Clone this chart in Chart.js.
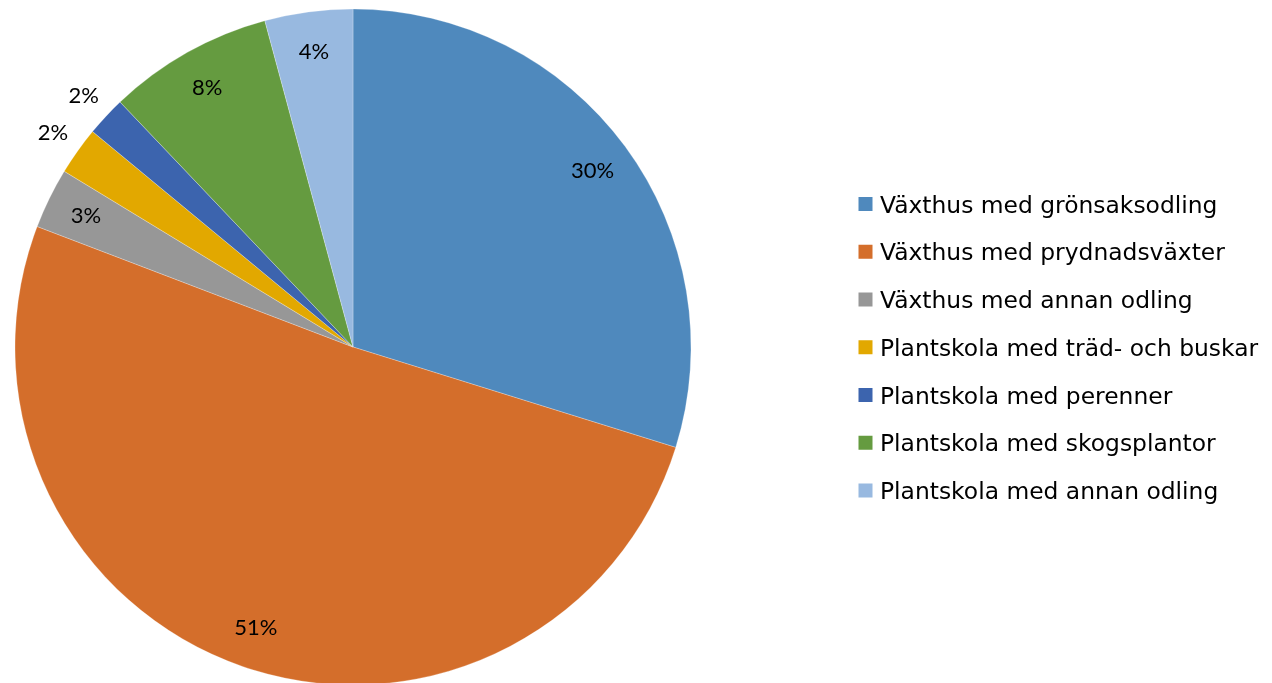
<!DOCTYPE html>
<html>
<head>
<meta charset="utf-8">
<title>Andel per odlingstyp</title>
<script src="https://cdn.jsdelivr.net/npm/chart.js@4/dist/chart.umd.min.js"></script>
<style>
    html, body { margin: 0; padding: 0; background: #ffffff; }
    #wrap { width: 1272px; height: 683px; }
</style>
</head>
<body>
<div id="wrap"><canvas id="chart" width="1272" height="683"></canvas></div>
<script>
// Kategorier och andelar (procent)
const categories = [
    'Växthus med grönsaksodling',
    'Växthus med prydnadsväxter',
    'Växthus med annan odling',
    'Plantskola med träd- och buskar',
    'Plantskola med perenner',
    'Plantskola med skogsplantor',
    'Plantskola med annan odling'
];
const shares = [29.8, 51.0, 2.9, 2.3, 1.9, 7.9, 4.2];
const colors = ['#4F89BD', '#D46E2B', '#979797', '#E2A800', '#3C64AE', '#659B40', '#98B9E0'];

// Procentetiketter på tårtbitarna
const sliceLabels = {
    id: 'sliceLabels',
    afterDatasetsDraw(chart) {
        const ctx = chart.ctx;
        const meta = chart.getDatasetMeta(0);
        const values = chart.data.datasets[0].data;
        ctx.save();
        ctx.font = '22px Lato, "Liberation Sans", sans-serif';
        ctx.fillStyle = '#000000';
        ctx.textAlign = 'center';
        ctx.textBaseline = 'middle';
        meta.data.forEach((arc, i) => {
            const p = arc.getProps(['x', 'y', 'startAngle', 'endAngle', 'outerRadius'], true);
            const mid = (p.startAngle + p.endAngle) / 2;
            // små bitar får etiketten utanför
            const r = values[i] < 2.5 ? p.outerRadius * 1.09 : p.outerRadius * 0.88;
            ctx.fillText(Math.round(values[i]) + '%', p.x + Math.cos(mid) * r, p.y + Math.sin(mid) * r);
        });
        ctx.restore();
    }
};

// Egen förklaring till höger
const sideLegend = {
    id: 'sideLegend',
    afterDraw(chart) {
        const ctx = chart.ctx;
        const labels = chart.data.labels;
        const fills = chart.data.datasets[0].backgroundColor;
        const x = 858.5, top = 204, step = 47.75, box = 14;
        ctx.save();
        ctx.font = '23.4px "DejaVu Sans", Verdana, sans-serif';
        ctx.textAlign = 'left';
        ctx.textBaseline = 'alphabetic';
        labels.forEach((label, i) => {
            const cy = top + i * step;
            ctx.fillStyle = fills[i];
            ctx.fillRect(x, cy - box / 2, box, box);
            ctx.fillStyle = '#000000';
            ctx.fillText(label, x + 21.5, cy + 8.5);
        });
        ctx.restore();
    }
};

new Chart(document.getElementById('chart'), {
    type: 'pie',
    data: {
        labels: categories,
        datasets: [{
            data: shares,
            backgroundColor: colors,
            borderColor: 'rgba(255,255,255,0.25)',
            borderWidth: 1,
            radius: 338
        }]
    },
    options: {
        responsive: false,
        animation: false,
        devicePixelRatio: 1,
        layout: {
            padding: { left: 0, top: 11, right: 566, bottom: 0 }
        },
        plugins: {
            legend: { display: false },
            tooltip: { enabled: false }
        }
    },
    plugins: [sliceLabels, sideLegend]
});
</script>
</body>
</html>
